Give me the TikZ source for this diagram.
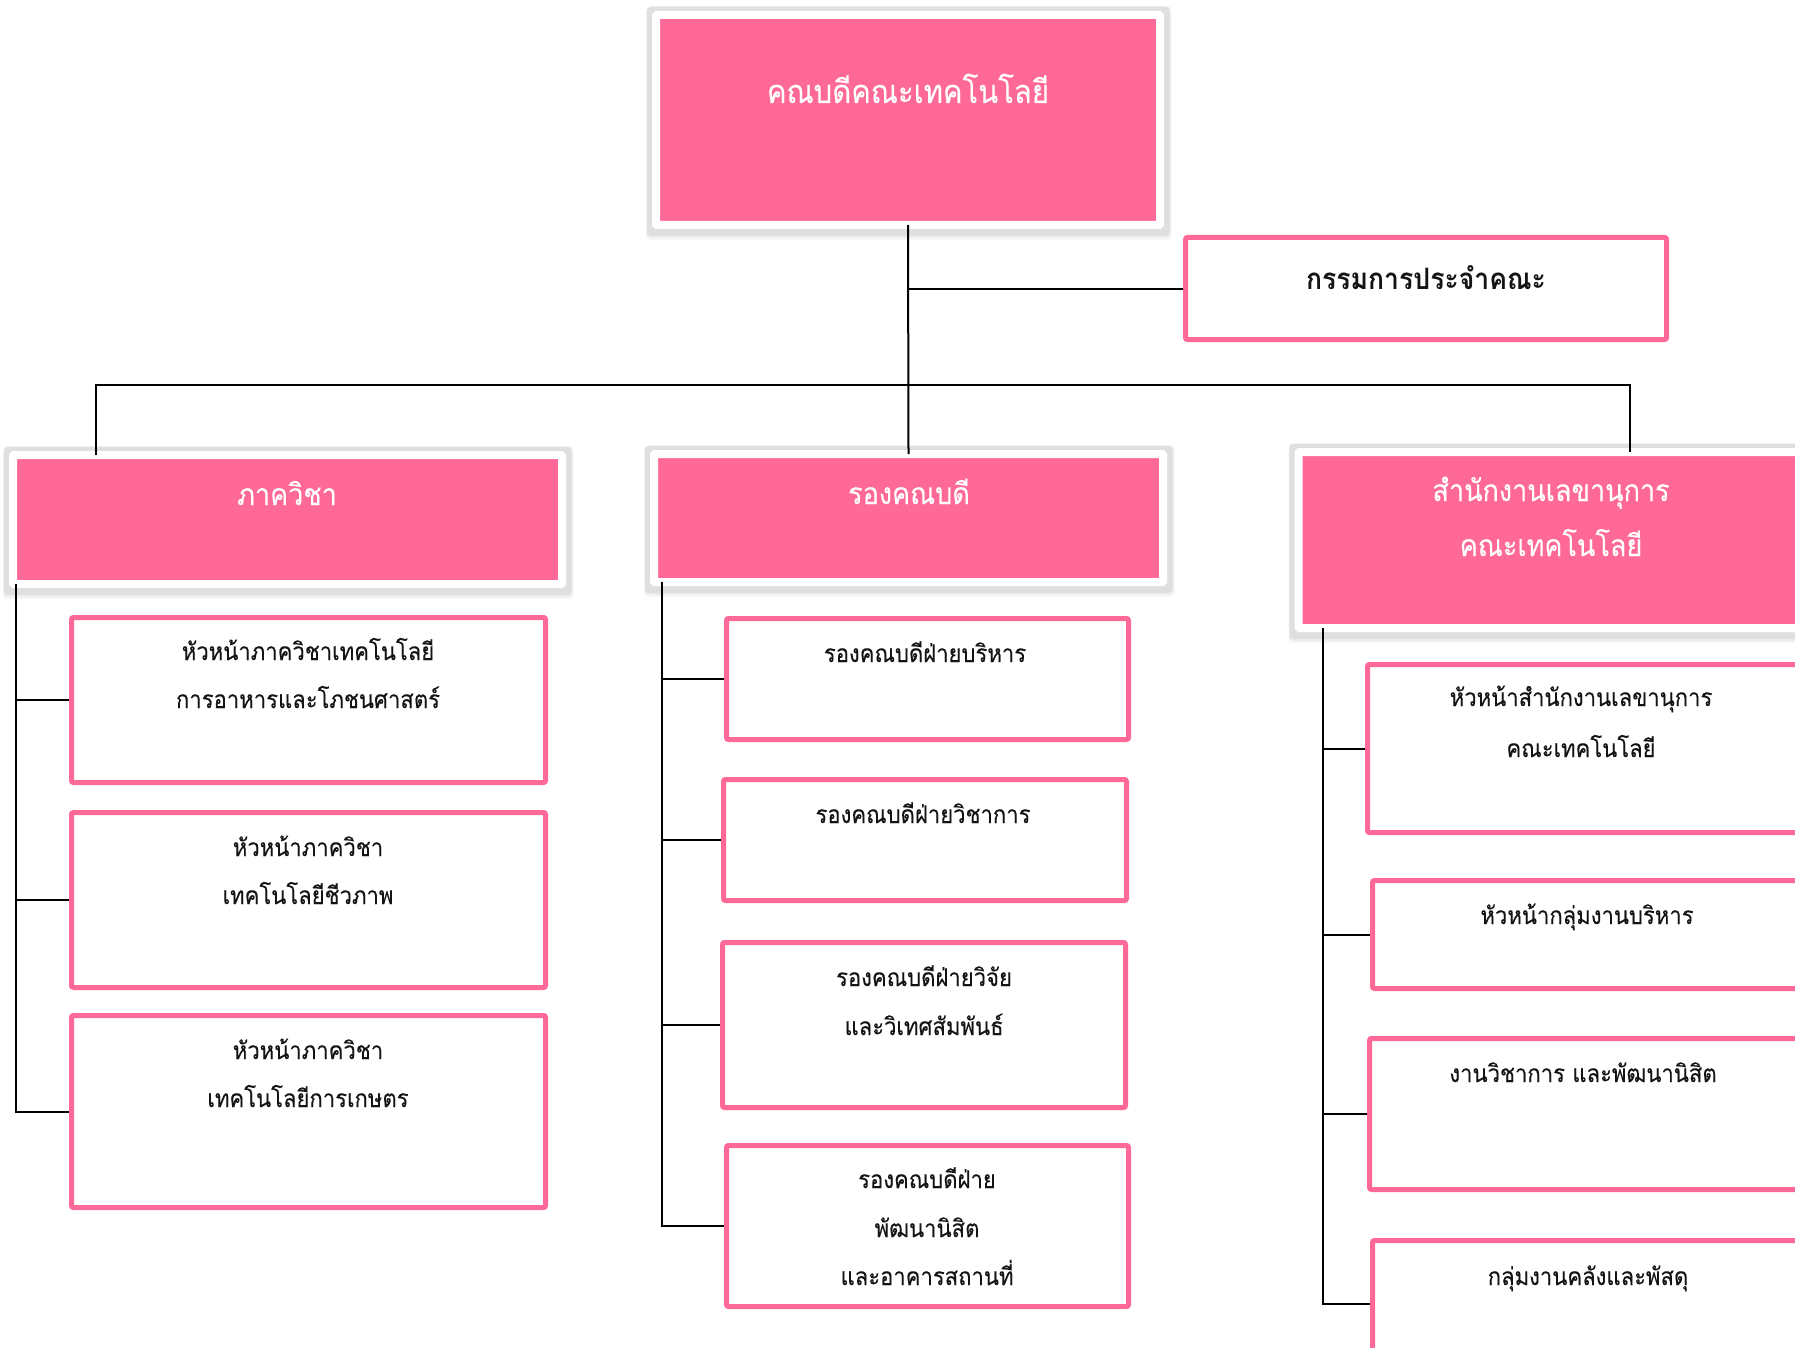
\documentclass[tikz,border=0pt]{standalone}
\usepackage{fontspec}
\setmainfont[Script=Thai,FakeStretch=0.9,UprightFeatures={FakeBold=0.2}]{Loma}
\usetikzlibrary{backgrounds}
\definecolor{pk}{RGB}{255,105,152}
\begin{document}
\begin{tikzpicture}[x=1pt,y=-1pt,
  hdr/.style={draw=white, line width=8pt, fill=pk, inner sep=0pt, rounded corners=1pt},
  obox/.style={draw=pk, line width=5pt, fill=white, rounded corners=2pt, inner sep=0pt},
  ln/.style={line width=2pt, black},
  btxt/.style={anchor=base, inner sep=0pt, font=\fontsize{24.5}{30}\selectfont, text=black!92},
  wtxt/.style={anchor=base, inner sep=0pt, font=\fontsize{30}{36}\selectfont, text=white},
  shd/.style={fill=black, opacity=#1, rounded corners=4pt},
]
\useasboundingbox (0,0) rectangle (1795,1348);

% pink headers
\node[hdr, minimum width=504pt, minimum height=210pt] (top) at (908,120) {};
\node[hdr, minimum width=549pt, minimum height=129pt] (lh) at (287.5,519.5) {};
\node[hdr, minimum width=509pt, minimum height=128pt] (mh) at (908.5,518) {};
\node[hdr, minimum width=507pt, minimum height=176pt] (rh) at (1552,540) {};

\begin{pgfonlayer}{background}
\fill[white] (0,0) rectangle (1795,1348);
\foreach \n in {top,lh,mh,rh}{
  \fill[shd=0.03] ([shift={(-6,-5)}]\n.north west) rectangle ([shift={(7.5,11)}]\n.south east);
  \fill[shd=0.04] ([shift={(-5.5,-4.5)}]\n.north west) rectangle ([shift={(6.5,9)}]\n.south east);
  \fill[shd=0.06] ([shift={(-5,-4)}]\n.north west) rectangle ([shift={(5.5,7)}]\n.south east);
}
\end{pgfonlayer}

% outlined boxes
\node[obox, minimum width=481pt, minimum height=102pt] (kk) at (1426,288.5) {};
\node[obox, minimum width=474pt, minimum height=165pt] (L1) at (308.5,700) {};
\node[obox, minimum width=474pt, minimum height=175pt] (L2) at (308.5,900) {};
\node[obox, minimum width=474pt, minimum height=192pt] (L3) at (308.5,1111.5) {};
\node[obox, minimum width=402pt, minimum height=121pt] (M1) at (927.5,679) {};
\node[obox, minimum width=403pt, minimum height=121pt] (M2) at (925,840) {};
\node[obox, minimum width=403pt, minimum height=165pt] (M3) at (924,1025) {};
\node[obox, minimum width=402pt, minimum height=161pt] (M4) at (927.5,1226) {};
\node[obox, minimum width=430pt, minimum height=168pt] (R1) at (1582.5,748.5) {};
\node[obox, minimum width=430pt, minimum height=108pt] (R2) at (1587.5,934.5) {};
\node[obox, minimum width=428pt, minimum height=151pt] (R3) at (1583.5,1114) {};
\node[obox, minimum width=430pt, minimum height=127pt] (R4) at (1587.5,1304) {};

% connectors
\coordinate (bl) at (96,385);
\coordinate (br) at (1630,385);
\coordinate (lx) at (16,0);
\coordinate (mx) at (662,0);
\coordinate (rx) at (1323,0);
\draw[ln] ([yshift=4pt]top.south) -- ([yshift=-4pt]mh.north);
\draw[ln] (top.south |- kk.west) -- (kk.west);
\draw[ln] ([yshift=-4pt]bl |- lh.north) -- (bl) -- (br) -- ([yshift=-4pt]br |- rh.north);
\draw[ln] ([yshift=4pt]lx |- lh.south) -- (lx |- L3.west) -- (L3.west);
\draw[ln] (lx |- L1.west) -- (L1.west);
\draw[ln] (lx |- L2.west) -- (L2.west);
\draw[ln] ([yshift=4pt]mx |- mh.south) -- (mx |- M4.west) -- (M4.west);
\draw[ln] (mx |- M1.west) -- (M1.west);
\draw[ln] (mx |- M2.west) -- (M2.west);
\draw[ln] (mx |- M3.west) -- (M3.west);
\draw[ln] ([yshift=4pt]rx |- rh.south) -- (rx |- R4.west) -- (R4.west);
\draw[ln] (rx |- R1.west) -- (R1.west);
\draw[ln] (rx |- R2.west) -- (R2.west);
\draw[ln] (rx |- R3.west) -- (R3.west);

% texts
\node[wtxt, font=\fontsize{32.5}{38}\selectfont] (ttop) at (908,103) {คณบดีคณะเทคโนโลยี};
\node[btxt, font=\fontsize{29.5}{34}\selectfont\bfseries] (tkk) at (1426,289) {กรรมการประจำคณะ};
\node[wtxt] (tlh) at (287,505) {ภาควิชา};
\node[wtxt] (tmh) at (909,504) {รองคณบดี};
\node[wtxt] (trh1) at (1551,501) {สำนักงานเลขานุการ};
\node[wtxt] (trh2) at (1551,556) {คณะเทคโนโลยี};
\node[btxt] (tl1a) at (308,660) {หัวหน้าภาควิชาเทคโนโลยี};
\node[btxt] (tl1b) at (308,708) {การอาหารและโภชนศาสตร์};
\node[btxt] (tl2a) at (308,856) {หัวหน้าภาควิชา};
\node[btxt] (tl2b) at (308,904) {เทคโนโลยีชีวภาพ};
\node[btxt] (tl3a) at (308,1059) {หัวหน้าภาควิชา};
\node[btxt] (tl3b) at (308,1107) {เทคโนโลยีการเกษตร};
\node[btxt] (tm1) at (925,662) {รองคณบดีฝ่ายบริหาร};
\node[btxt] (tm2) at (923,823) {รองคณบดีฝ่ายวิชาการ};
\node[btxt] (tm3a) at (924,986) {รองคณบดีฝ่ายวิจัย};
\node[btxt] (tm3b) at (924,1035) {และวิเทศสัมพันธ์};
\node[btxt] (tm4a) at (927,1188) {รองคณบดีฝ่าย};
\node[btxt] (tm4b) at (927,1237) {พัฒนานิสิต};
\node[btxt] (tm4c) at (927,1285) {และอาคารสถานที่};
\node[btxt] (tr1a) at (1581,706) {หัวหน้าสำนักงานเลขานุการ};
\node[btxt] (tr1b) at (1581,757) {คณะเทคโนโลยี};
\node[btxt] (tr2) at (1587,924) {หัวหน้ากลุ่มงานบริหาร};
\node[btxt] (tr3) at (1583,1082) {งานวิชาการ และพัฒนานิสิต};
\node[btxt] (tr4) at (1588,1285) {กลุ่มงานคลังและพัสดุ};
\end{tikzpicture}
\end{document}
